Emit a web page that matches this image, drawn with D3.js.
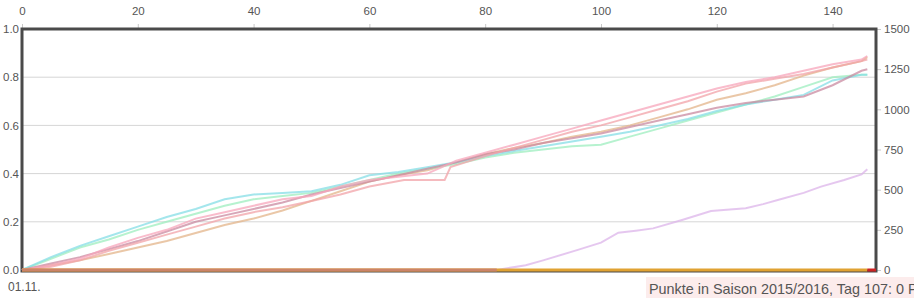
<!DOCTYPE html>
<html>
<head>
<meta charset="utf-8">
<script src="https://d3js.org/d3.v7.min.js"></script>
<style>
  body { margin: 0; background: #fff; }
  svg { font-family: "Liberation Sans", Arial, sans-serif; display: block; }
</style>
</head>
<body>
<div id="chart"></div>
<script>

// season days (x) and points per player (right axis)
var days   = [0,5,10,15,20,25,30,35,40,45,50,55,60,65,70,75,80,85,90,95,100,105,110,115,120,125,130,135,140,145,146];
var pinkA  = [0,30,70,140,200,250,320,360,400,440,460,520,560,580,600,680,730,780,830,880,930,980,1030,1080,1130,1170,1200,1240,1280,1310,1332];
var cyan   = [0,80,150,210,270,330,380,440,470,480,490,530,590,610,640,670,710,740,770,800,830,860,900,940,990,1030,1060,1090,1180,1215,1215];
var green  = [0,70,140,190,250,300,350,400,440,460,480,520,560,600,630,660,700,730,750,770,780,830,880,930,980,1030,1080,1140,1200,1215,1215];
var tan    = [0,30,60,100,140,180,230,280,320,370,430,490,550,590,620,670,720,760,790,830,860,900,950,1000,1060,1100,1150,1210,1260,1300,1325];
var mauve  = [0,40,80,130,180,240,300,340,380,420,470,510,550,590,630,670,720,750,790,820,850,890,930,970,1010,1040,1060,1080,1150,1240,1250];

var pinkBDays = [0,5,10,15,20,25,30,35,40,45,50,55,60,66,73,74,80,85,90,95,100,105,110,115,120,125,130,135,140,145,146];
var pinkB     = [0,20,60,120,170,220,270,320,360,390,430,470,520,560,560,640,710,760,810,860,900,950,1000,1050,1110,1160,1190,1220,1260,1300,1310];

var lilacDays = [82,87,90,96,100,103,106,109,114,119,125,128,131,135,138,142,145,146];
var lilac     = [0,30,60,125,170,232,245,259,311,367,384,410,440,480,519,560,595,627];

var zeroDays  = [0, 146];
var zeroVals  = [0, 0];
var earlyDays = [0, 82];
var lateDays  = [146, 147.5];

var topTicks   = [0,20,40,60,80,100,120,140];
var leftTicks  = [0,0.2,0.4,0.6,0.8,1.0];
var rightTicks = [0,250,500,750,1000,1250,1500];
var gridTicks  = [0.2,0.4,0.6,0.8];

var startLabel = "01.11.";
var tipText = "Punkte in Saison 2015/2016, Tag 107: 0 Punkte";

var margin = {top: 29, right: 38, bottom: 28, left: 22},
    width = 914 - margin.left - margin.right,
    height = 298 - margin.top - margin.bottom;

var svg = d3.select("#chart")
  .append("svg")
    .attr("width", 914)
    .attr("height", 298);

var g = svg.append("g")
    .attr("transform", "translate(" + margin.left + "," + margin.top + ")");

var x = d3.scaleLinear().domain([0, 147.5]).range([0, width]);
var yL = d3.scaleLinear().domain([0, 1]).range([height, 0]);
var yR = d3.scaleLinear().domain([0, 1500]).range([height, 0]);

// grid lines
g.selectAll(".grid")
  .data(gridTicks)
  .enter().append("line")
    .attr("x1", 0)
    .attr("x2", width)
    .attr("y1", function(d) { return yL(d); })
    .attr("y2", function(d) { return yL(d); })
    .attr("stroke", "#d6d6d6")
    .attr("stroke-width", 1);

// axes
var topAxis = g.append("g")
  .call(d3.axisTop(x).tickValues(topTicks).tickSize(5).tickPadding(9));
var leftAxis = g.append("g")
  .call(d3.axisLeft(yL).tickValues(leftTicks).tickFormat(d3.format(".1f")).tickSize(0).tickPadding(3));
var rightAxis = g.append("g")
  .attr("transform", "translate(" + width + ",0)")
  .call(d3.axisRight(yR).tickValues(rightTicks).tickFormat(d3.format("d")).tickSize(5).tickPadding(3));

[topAxis, leftAxis, rightAxis].forEach(function(a) {
  a.select(".domain").remove();
  a.selectAll("line").attr("stroke", "#c8c8c8");
  a.selectAll("text")
    .attr("fill", "#555")
    .style("font-size", "11.5px")
    .style("font-family", "'Liberation Sans', Arial, sans-serif");
});

// frame
g.append("rect")
  .attr("x", 0)
  .attr("y", 0)
  .attr("width", width)
  .attr("height", height + 1)
  .attr("fill", "none")
  .attr("stroke", "#4a4a4a")
  .attr("stroke-width", 3);

var line = d3.line()
  .x(function(d) { return x(d[0]); })
  .y(function(d) { return yR(d[1]); });

function pairs(xs, ys) {
  return xs.map(function(d, i) { return [d, ys[i]]; });
}

var series = [
  {xs: days, ys: tan, color: "#e3b48a"},
  {xs: days, ys: green, color: "#9eeebf"},
  {xs: days, ys: cyan, color: "#86dde5"},
  {xs: days, ys: mauve, color: "#c98aa0"},
  {xs: pinkBDays, ys: pinkB, color: "#f2a3a8"},
  {xs: days, ys: pinkA, color: "#f7a6bb"},
  {xs: lilacDays, ys: lilac, color: "#dcb4ea"}
];

g.selectAll(".player")
  .data(series)
  .enter().append("path")
    .attr("class", "player")
    .attr("fill", "none")
    .attr("stroke", function(d) { return d.color; })
    .attr("stroke-width", 2)
    .attr("stroke-opacity", 0.75)
    .attr("d", function(d) { return line(pairs(d.xs, d.ys)); });

// zero lines along the bottom
g.append("path")
  .attr("fill", "none")
  .attr("stroke", "#e0a232")
  .attr("stroke-width", 3)
  .attr("d", line(pairs(zeroDays, zeroVals)));
g.append("path")
  .attr("fill", "none")
  .attr("stroke", "#cc8468")
  .attr("stroke-width", 3)
  .attr("d", line(pairs(earlyDays, zeroVals)));
g.append("path")
  .attr("fill", "none")
  .attr("stroke", "#cc2222")
  .attr("stroke-width", 3)
  .attr("d", line(pairs(lateDays, zeroVals)));

// date label
svg.append("text")
  .attr("x", 8)
  .attr("y", 291)
  .attr("fill", "#555")
  .style("font-size", "12px")
  .text(startLabel);

// tooltip box
svg.append("rect")
  .attr("x", 646)
  .attr("y", 277)
  .attr("width", 300)
  .attr("height", 22)
  .attr("fill", "#fcecec");
svg.append("text")
  .attr("x", 649)
  .attr("y", 294)
  .attr("fill", "#555")
  .style("font-size", "14.4px")
  .text(tipText);

</script>
</body>
</html>
